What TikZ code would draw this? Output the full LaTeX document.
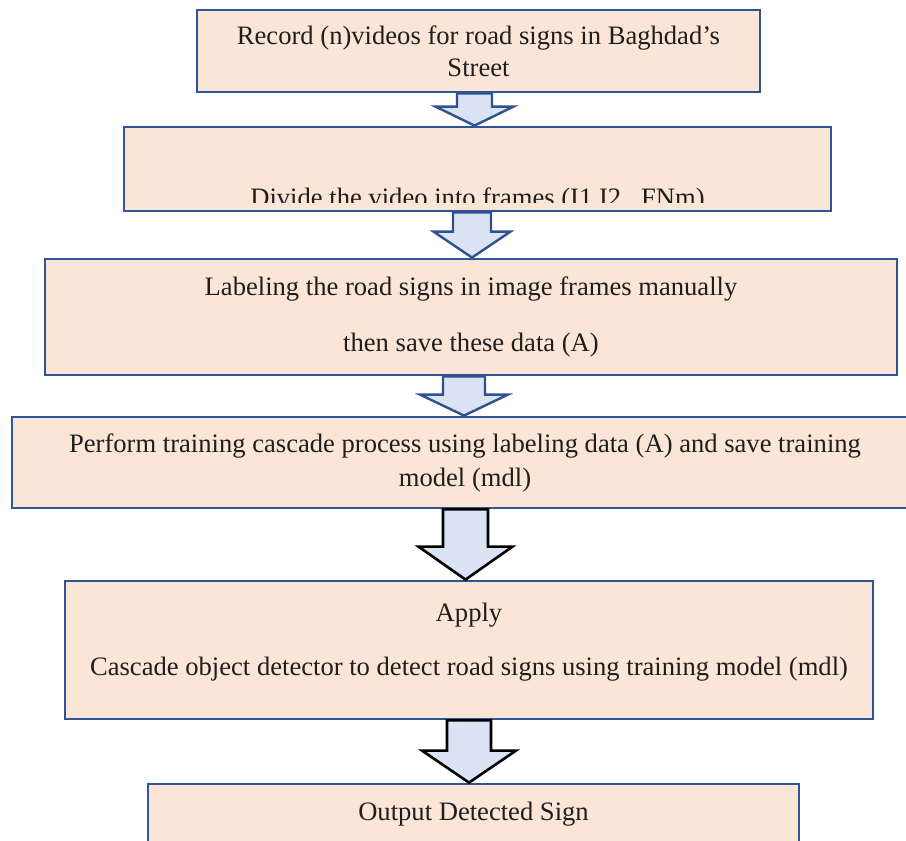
\documentclass[tikz,border=0pt]{standalone}
\usepackage{fontspec}
\setmainfont{Liberation Serif}
\usetikzlibrary{positioning,calc}

\definecolor{boxfill}{HTML}{FBE5D6}
\definecolor{boxline}{HTML}{2F5597}
\definecolor{arrowfill}{HTML}{DAE3F3}
\definecolor{arrowblue}{HTML}{2F528F}
\definecolor{inktext}{HTML}{1E1E1E}

\tikzset{
  stepbox/.style={draw=boxline,fill=boxfill,line width=1.4pt,rectangle,
    align=center,text=inktext,font=\fontsize{13.3}{16}\selectfont,inner sep=0pt},
  bluearrow/.style={draw=arrowblue,fill=arrowfill,line width=1.2pt,line join=miter},
  blackarrow/.style={draw=black,fill=arrowfill,line width=1.3pt,line join=miter}
}

% #1 style, #2 from node, #3 to node, #4 x centre, #5 shaft half width,
% #6 head half width, #7 head length
\newcommand{\downblock}[7]{%
  \coordinate (#2top) at (#4,0 |- #2.south);
  \coordinate (#2tip) at (#4,0 |- #3.north);
  \draw[#1] ($(#2top)+(-#5,0)$) -- ($(#2tip)+(-#5,-#7)$) -- ($(#2tip)+(-#6,-#7)$)
    -- (#2tip) -- ($(#2tip)+(#6,-#7)$) -- ($(#2tip)+(#5,-#7)$) -- ($(#2top)+(#5,0)$) -- cycle;}

\begin{document}
\begin{tikzpicture}[x=0.5pt,y=-0.5pt]
    \clip (0,0) rectangle (906,841);

    \node[stepbox,minimum width=281.5pt,minimum height=41pt] (record) at (478.5,51)
        {Record (n)videos for road signs in Baghdad’s\\Street};
    \node[stepbox,minimum width=353.5pt,minimum height=42pt] (divide) at (477.5,169) {};
    \begin{scope}
        \clip (divide.north west) rectangle ($(divide.south east)+(0,-10)$);
        \node[anchor=base,text=inktext,font=\fontsize{13.3}{16}\selectfont,inner sep=0pt]
            (dividetext) at (477.5,206) {Divide the video into frames (I1,I2...FNm)};
    \end{scope}
    \node[stepbox,minimum width=426pt,minimum height=58pt] (label) at (471,317)
        {Labeling the road signs in image frames manually\\[12pt]then save these data (A)};
    \node[stepbox,minimum width=453pt,minimum height=45.5pt] (train) at (465,462.5)
        {Perform training cascade process using labeling data (A) and save training\\[1pt]model (mdl)};
    \node[stepbox,minimum width=404pt,minimum height=69pt,text depth=10.5pt] (apply) at (469,650)
        {Apply\\[11pt]Cascade object detector to detect road signs using training model (mdl)};
    \node[stepbox,minimum width=325.5pt,minimum height=30.5pt] (output) at (473.5,814.5)
        {Output Detected Sign};

    \downblock{bluearrow}{record}{divide}{474.5}{17.5}{39}{19}
    \downblock{bluearrow}{divide}{label}{472}{19}{38.5}{26}
    \downblock{bluearrow}{label}{train}{464}{21}{44}{21}
    \downblock{blackarrow}{train}{apply}{465.5}{22.5}{47}{33}
    \downblock{blackarrow}{apply}{output}{469}{22}{47}{32}
\end{tikzpicture}
\end{document}
